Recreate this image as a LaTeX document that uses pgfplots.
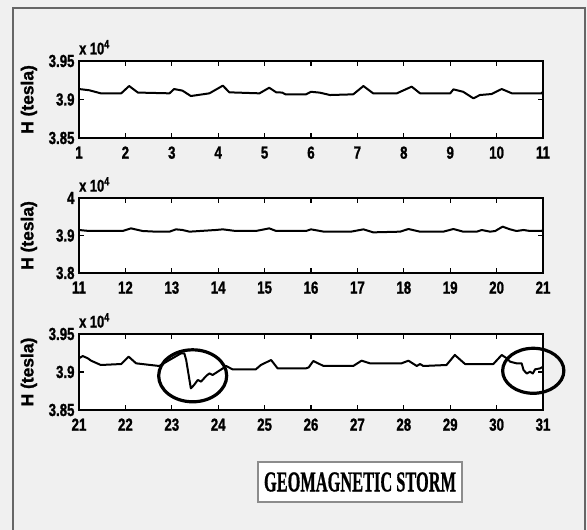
\documentclass[border=0pt]{standalone}
\usepackage{pgfplots}
\pgfplotsset{compat=1.18}
\usepackage{graphicx}
\usepackage{fontspec}
\setmainfont{Liberation Sans}
\newfontfamily\narrowfont{Liberation Sans}[FakeStretch=0.76, BoldFeatures={FakeBold=1.2}]
\newfontfamily\labelfont{Liberation Sans}[BoldFeatures={FakeBold=1.2}]
\newfontfamily\titlefont{Liberation Serif}[BoldFeatures={FakeBold=1.0}]

\pgfplotstableread{
x y
1.00 3.9136
1.22 3.9120
1.47 3.9080
1.91 3.9080
2.08 3.9175
2.27 3.9090
2.95 3.9080
3.05 3.9136
3.23 3.9115
3.41 3.9045
3.81 3.9080
4.10 3.9180
4.24 3.9093
4.89 3.9080
5.10 3.9153
5.25 3.9093
5.38 3.9090
5.45 3.9067
5.89 3.9067
6.00 3.9100
6.19 3.9089
6.41 3.9058
6.91 3.9067
7.13 3.9175
7.34 3.9080
7.85 3.9080
8.17 3.9167
8.35 3.9080
9.00 3.9080
9.07 3.9132
9.28 3.9100
9.50 3.9015
9.64 3.9058
9.89 3.9071
10.11 3.9136
10.33 3.9080
10.97 3.9080
11.00 3.9100
}\dataA

\pgfplotstableread{
x y
11.00 3.9147
11.22 3.9120
11.94 3.9120
12.12 3.9190
12.37 3.9120
12.66 3.9102
12.95 3.9102
13.09 3.9164
13.23 3.9147
13.38 3.9102
13.95 3.9147
14.10 3.9164
14.38 3.9120
14.81 3.9120
15.10 3.9190
15.25 3.9120
15.89 3.9120
16.00 3.9164
16.28 3.9102
16.86 3.9102
17.13 3.9164
17.34 3.9084
17.92 3.9102
18.10 3.9173
18.35 3.9102
18.85 3.9102
19.07 3.9173
19.28 3.9102
19.57 3.9102
19.68 3.9147
19.86 3.9102
19.97 3.9120
20.13 3.9236
20.29 3.9164
20.43 3.9120
20.58 3.9147
20.72 3.9120
20.97 3.9120
21.00 3.9150
}\dataB

\pgfplotstableread{
x y
21.00 3.9180
21.08 3.9210
21.19 3.9180
21.26 3.9149
21.47 3.9092
21.91 3.9105
22.07 3.9202
22.23 3.9114
22.73 3.9079
22.95 3.9158
23.20 3.9246
23.27 3.9246
23.31 3.9158
23.41 3.8785
23.48 3.8829
23.56 3.8895
23.63 3.8873
23.74 3.8947
23.81 3.8982
23.88 3.8961
23.99 3.9004
24.10 3.9048
24.17 3.9079
24.31 3.9035
24.81 3.9035
24.92 3.9092
25.14 3.9158
25.28 3.9048
25.89 3.9048
25.95 3.9060
26.05 3.9145
26.27 3.9079
26.91 3.9079
27.09 3.9149
27.27 3.9114
27.95 3.9114
28.10 3.9149
28.28 3.9079
28.35 3.9105
28.42 3.9079
28.92 3.9092
29.10 3.9224
29.32 3.9105
29.93 3.9105
30.11 3.9224
30.22 3.9180
30.29 3.9136
30.43 3.9114
30.54 3.9114
30.58 3.9026
30.65 3.8980
30.72 3.9004
30.78 3.8980
30.83 3.9035
30.94 3.9048
31.00 3.9070
}\dataC

\pgfplotsset{
  magstyle/.style={
    scale only axis,
    width=464bp,
    anchor=south west,
    clip=false,
    axis background/.style={fill=white},
    axis line style={line width=1.4bp},
    every tick/.style={line width=1.3bp, black},
    major tick length=5bp,
    tick align=inside,
    xtick distance=1,
    scaled y ticks=false,
    /pgf/number format/assume math mode=true,
    ticklabel style={font=\narrowfont\bfseries\fontsize{17.5}{17.5}\selectfont},
    xticklabel style={yshift=-5bp},
    yticklabel style={/pgf/number format/fixed, xshift=-1bp},
    ylabel={H (tesla)},
    ylabel style={font=\labelfont\bfseries\fontsize{17.5}{17.5}\selectfont, at={(axis description cs:-0.108,0.5)}, anchor=center},
  },
  storm/.style={black, line width=2bp, line join=round},
}
\tikzset{tenlabel/.style={anchor=south west, inner sep=0pt, font=\narrowfont\bfseries\fontsize{17}{17}\selectfont}}

\begin{document}
\begin{tikzpicture}
\fill[black!6] (0,0) rectangle (587bp,530bp);
\useasboundingbox (0,0) rectangle (587bp,530bp);
\draw[black!60, line width=2bp] (13bp,0) -- (13bp,522bp) -- (585bp,522bp) -- (585bp,0);

\begin{axis}[magstyle, at={(79bp,392bp)}, height=77bp,
  xmin=1, xmax=11, ymin=3.85, ymax=3.95,
  ytick={3.85,3.9,3.95}, yticklabels={3.85,3.9,3.95}]
  \addplot[storm] table[x=x,y=y] {\dataA};
  \node[tenlabel] at (axis description cs:0,1.08) {x 10\textsuperscript{4}};
\end{axis}

\begin{axis}[magstyle, at={(79bp,257bp)}, height=75bp,
  xmin=11, xmax=21, ymin=3.8, ymax=4.0,
  ytick={3.8,3.9,4.0}, yticklabels={3.8,3.9,4}]
  \addplot[storm] table[x=x,y=y] {\dataB};
  \node[tenlabel] at (axis description cs:0,1.08) {x 10\textsuperscript{4}};
\end{axis}

\begin{axis}[magstyle, at={(79bp,120bp)}, height=76bp,
  xmin=21, xmax=31, ymin=3.85, ymax=3.95,
  ytick={3.85,3.9,3.95}, yticklabels={3.85,3.9,3.95}]
  \addplot[storm] table[x=x,y=y] {\dataC};
  \draw[line width=3.2bp] (axis cs:23.45,3.895) ellipse [x radius=0.733, y radius=0.0342];
  \draw[line width=3.2bp] (axis cs:30.79,3.9016) ellipse [x radius=0.66, y radius=0.0296];
  \node[tenlabel] at (axis description cs:0,1.08) {x 10\textsuperscript{4}};
\end{axis}

\node[draw=black!45, line width=1.5bp, fill=white, minimum width=204bp, minimum height=40bp, inner sep=0pt] at (360bp,48bp)
  {\resizebox{192bp}{19bp}{\titlefont\bfseries GEOMAGNETIC STORM}};
\end{tikzpicture}
\end{document}
